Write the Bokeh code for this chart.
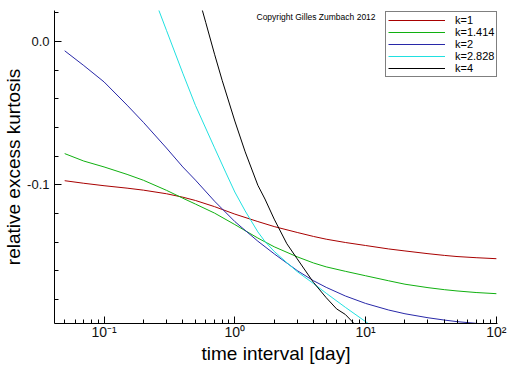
from bokeh.plotting import figure
from bokeh.models import SingleIntervalTicker, PrintfTickFormatter, LogTicker, Label
from bokeh.embed import file_html
from bokeh.resources import INLINE

# ---- data ----
x_k1 = [0.05, 0.07, 0.1, 0.15, 0.2, 0.3, 0.4, 0.5, 0.7, 1, 1.5, 2, 3, 4, 5, 7,
        10, 15, 20, 30, 40, 50, 70, 100]
y_k1 = [-0.0972, -0.0990, -0.1007, -0.1024, -0.1038, -0.1063, -0.1087, -0.1110,
        -0.1153, -0.1205, -0.1257, -0.1292, -0.1333, -0.1361, -0.1380, -0.1403,
        -0.1424, -0.1448, -0.1462, -0.1481, -0.1493, -0.1501, -0.1509, -0.1516]

x_k1414 = [0.05, 0.07, 0.1, 0.15, 0.2, 0.3, 0.4, 0.5, 0.7, 1, 1.5, 2, 3, 4, 5, 7,
           10, 15, 20, 30, 40, 50, 70, 100]
y_k1414 = [-0.0783, -0.0835, -0.0876, -0.0928, -0.0969, -0.1039, -0.1094, -0.1135,
           -0.1198, -0.1278, -0.1372, -0.1433, -0.1503, -0.1546, -0.1573, -0.1604,
           -0.1635, -0.1670, -0.1694, -0.1718, -0.1732, -0.1741, -0.1752, -0.1760]

x_k2 = [0.05, 0.07, 0.1, 0.15, 0.2, 0.3, 0.4, 0.5, 0.7, 1, 1.5, 2, 3, 4, 5, 7,
        10, 15, 20, 30, 40, 50, 70, 100]
y_k2 = [-0.0066, -0.0169, -0.0283, -0.0445, -0.0565, -0.0744, -0.0876, -0.0968,
        -0.1115, -0.1257, -0.1394, -0.1482, -0.1599, -0.1670, -0.1716, -0.1776,
        -0.1828, -0.1874, -0.1900, -0.1928, -0.1944, -0.1955, -0.1967, -0.1980]

x_k2828 = [0.25, 0.3, 0.4, 0.5, 0.7, 0.85, 1, 1.2, 1.5, 1.7, 2, 2.5, 3, 4, 5,
           7, 10, 12]
y_k2828 = [0.0267, 0.0077, -0.0222, -0.0447, -0.0743, -0.0912, -0.1051, -0.1183,
           -0.1329, -0.1396, -0.1465, -0.1544, -0.1606, -0.1690, -0.1757,
           -0.1855, -0.1955, -0.2007]

x_k4 = [0.55, 0.6, 0.7, 0.8, 1, 1.2, 1.5, 1.7, 2, 2.5, 3, 4, 5, 6, 7, 8, 9]
y_k4 = [0.0253, 0.0130, -0.0090, -0.0272, -0.0556, -0.0771, -0.1004, -0.1100,
        -0.1240, -0.1412, -0.1517, -0.1682, -0.1788, -0.1866, -0.1905, -0.1960,
        -0.2010]

series_labels = ["k=1", "k=1.414", "k=2", "k=2.828", "k=4"]
series_colors = ["#a80000", "#10b010", "#2828a8", "#20e0e0", "#000000"]

x_tick_values = [0.1, 1, 10, 100]
x_tick_labels = ["10\u207b\u00b9", "10\u2070", "10\u00b9", "10\u00b2"]

x_title = "time interval [day]"
y_title = "relative excess kurtosis"
copyright_text = "Copyright Gilles Zumbach 2012"

FONT = "Liberation Sans"

p = figure(width=512, height=366, x_axis_type="log",
           x_range=(0.0418, 102), y_range=(-0.1968, 0.0215),
           output_backend="svg", toolbar_location=None,
           min_border_left=0, min_border_right=15, min_border_top=10,
           min_border_bottom=0)
p.outline_line_color = None
p.xgrid.visible = False
p.ygrid.visible = False
p.background_fill_color = "white"
p.border_fill_color = "white"

xs = [x_k1, x_k1414, x_k2, x_k2828, x_k4]
ys = [y_k1, y_k1414, y_k2, y_k2828, y_k4]
for xv, yv, lab, col in zip(xs, ys, series_labels, series_colors):
    p.line(xv, yv, line_color=col, line_width=1, legend_label=lab)

# axes
for ax in (p.xaxis[0], p.yaxis[0]):
    ax.axis_line_color = "black"
    ax.major_tick_line_color = "black"
    ax.minor_tick_line_color = "black"
    ax.major_tick_in = 7
    ax.major_tick_out = 0
    ax.minor_tick_in = 4
    ax.minor_tick_out = 0
    ax.major_label_text_font = FONT
    ax.major_label_text_color = "#111111"
    ax.axis_label_text_font = FONT
    ax.axis_label_text_font_style = "normal"
    ax.axis_label_text_color = "black"
    ax.major_label_standoff = 3
    ax.axis_label_standoff = 2

p.yaxis.ticker = SingleIntervalTicker(interval=0.1, num_minor_ticks=5)
p.yaxis.formatter = PrintfTickFormatter(format="%.1f")
p.yaxis.major_label_text_font_size = "13px"
p.yaxis.major_label_standoff = 5
p.yaxis.axis_label = y_title
p.yaxis.axis_label_text_font_size = "19px"
p.yaxis.axis_label_standoff = 0

p.xaxis.ticker = LogTicker(num_minor_ticks=10)
p.xaxis.major_label_overrides = dict(zip(x_tick_values, x_tick_labels))
p.xaxis.major_label_text_font_size = "14px"
p.xaxis.major_label_standoff = 0
p.xaxis.axis_label = x_title
p.xaxis.axis_label_text_font_size = "19px"
p.xaxis.axis_label_standoff = 0

# legend
lg = p.legend[0]
lg.location = (331, 246)
lg.border_line_color = "black"
lg.border_line_width = 1
lg.background_fill_color = "white"
lg.background_fill_alpha = 1
lg.padding = 2
lg.spacing = 0
lg.margin = 0
lg.glyph_width = 57
lg.glyph_height = 12
lg.label_height = 12
lg.label_standoff = 10
lg.label_text_font_size = "11px"
lg.label_text_line_height = 1.0
lg.label_text_color = "black"

p.add_layout(Label(x=202, y=302, x_units="screen", y_units="screen",
                   text=copyright_text, text_font=FONT,
                   text_font_size="8.5px", text_color="black"))

open("out.html", "w").write(file_html(p, INLINE))
